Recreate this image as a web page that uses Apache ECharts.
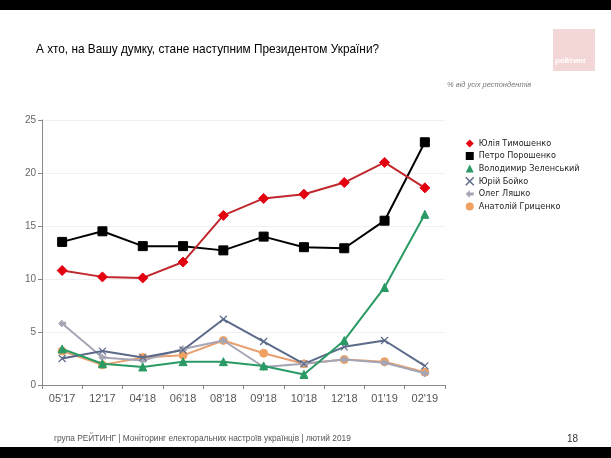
<!DOCTYPE html>
<html><head><meta charset="utf-8">
<script src="https://cdn.jsdelivr.net/npm/echarts@6/dist/echarts.min.js"></script>
<style>html,body{margin:0;padding:0;background:#fff}#c{width:611px;height:458px}</style>
</head><body><div id="c"></div>
<script>
const categories = ["05'17","12'17","04'18","06'18","08'18","09'18","10'18","12'18","01'19","02'19"];
const tymoshenko = [10.8,10.2,10.1,11.6,16.0,17.6,18.0,19.1,21.0,18.6];
const poroshenko = [13.5,14.5,13.1,13.1,12.7,14.0,13.0,12.9,15.5,22.9];
const zelensky   = [3.4,2.0,1.7,2.2,2.2,1.8,1.0,4.2,9.2,16.1];
const boyko      = [2.5,3.2,2.6,3.3,6.2,4.1,2.0,3.6,4.2,1.8];
const lyashko    = [5.8,2.6,2.3,3.4,4.2,1.7,2.0,2.4,2.1,1.1];
const hrytsenko  = [3.2,1.9,2.6,2.8,4.2,3.0,2.0,2.4,2.2,1.2];
const yTicks = [0,5,10,15,20,25];

const xPath = 'path://M0,0L10,10M10,0L0,10';
const arrowPath = 'path://M0,5L5,0L5,3L10,3L10,7L5,7L5,10Z';

const chart = echarts.init(document.getElementById('c'));
const font = '"Liberation Sans", Arial, sans-serif';
const cond = '"DejaVu Sans Condensed", "Liberation Sans", sans-serif';
function s(name, data, color, lineColor, symbol, size, z){
  return {name, type:'line', data, symbol, symbolSize:size, z:z,
    lineStyle:{color:lineColor, width:2}, itemStyle:{color:color, borderColor:color},
    emphasis:{disabled:true}};
}
chart.setOption({
  animation:false,
  textStyle:{fontFamily:font},
  grid:{left:42,right:166,top:120,bottom:73},
  xAxis:{type:'category',data:categories,boundaryGap:true,
    axisLine:{lineStyle:{color:'#888'}},
    axisTick:{show:true,lineStyle:{color:'#888'},length:4},
    axisLabel:{color:'#555',fontSize:11,margin:8}},
  yAxis:{type:'value',min:0,max:25,interval:5,
    axisLine:{show:true,lineStyle:{color:'#888'}},
    axisTick:{show:true,lineStyle:{color:'#888'},length:4},
    axisLabel:{color:'#666',fontSize:10,margin:6,formatter:v=>yTicks.includes(v)?String(v):''},
    splitLine:{lineStyle:{color:'#f0f0f0'}}},
  legend:{orient:'vertical',left:460,top:134,itemWidth:8,itemHeight:8,itemGap:3.5,
    textStyle:{fontSize:9,color:'#222',fontFamily:cond},
    data:[
      {name:'Юлія Тимошенко',icon:'diamond'},
      {name:'Петро Порошенко',icon:'rect'},
      {name:'Володимир Зеленський',icon:'triangle'},
      {name:'Юрій Бойко',icon:xPath,itemStyle:{borderColor:'#5c6a8a',borderWidth:1.5}},
      {name:'Олег Ляшко',icon:arrowPath},
      {name:'Анатолій Гриценко',icon:'circle'}
    ]},
  series:[
    s('Анатолій Гриценко',hrytsenko,'#f0a060','#e8a070','circle',8,2),
    s('Олег Ляшко',lyashko,'#a5a5b5','#a5a5b5',arrowPath,7,3),
    Object.assign(s('Юрій Бойко',boyko,'#5c6a8a','#5c6a8a',xPath,7,3),{itemStyle:{color:'#5c6a8a',borderColor:'#5c6a8a',borderWidth:1.2}}),
    s('Володимир Зеленський',zelensky,'#2a9a64','#2a9a64','triangle',8,4),
    s('Петро Порошенко',poroshenko,'#000','#000','rect',9,5),
    s('Юлія Тимошенко',tymoshenko,'#e3000f','#c0282d','diamond',10,6)
  ],
  graphic:[
    {type:'rect',shape:{x:0,y:0,width:611,height:10},style:{fill:'#000'}},
    {type:'rect',shape:{x:0,y:447,width:611,height:11},style:{fill:'#000'}},
    {type:'rect',shape:{x:553,y:29,width:42,height:42},style:{fill:'#f3d6d6'}},
    {type:'text',left:555,top:57,style:{text:'рейтинг',fill:'#fff',font:'bold 8px '+font}},
    {type:'text',x:36,y:43,scaleX:0.91,style:{text:'А хто, на Вашу думку, стане наступним Президентом України?',fill:'#000',font:'13px '+font}},
    {type:'text',left:447,top:81,style:{text:'% від усіх респондентів',fill:'#777',font:'italic 7.5px '+font}},
    {type:'text',x:54,y:434,scaleX:0.98,style:{text:'група РЕЙТИНГ | Моніторинг електоральних настроїв українців | лютий 2019',fill:'#555',font:'8.5px '+font}},
    {type:'text',left:567,top:434,style:{text:'18',fill:'#333',font:'10px '+font}}
  ]
});
</script></body></html>
